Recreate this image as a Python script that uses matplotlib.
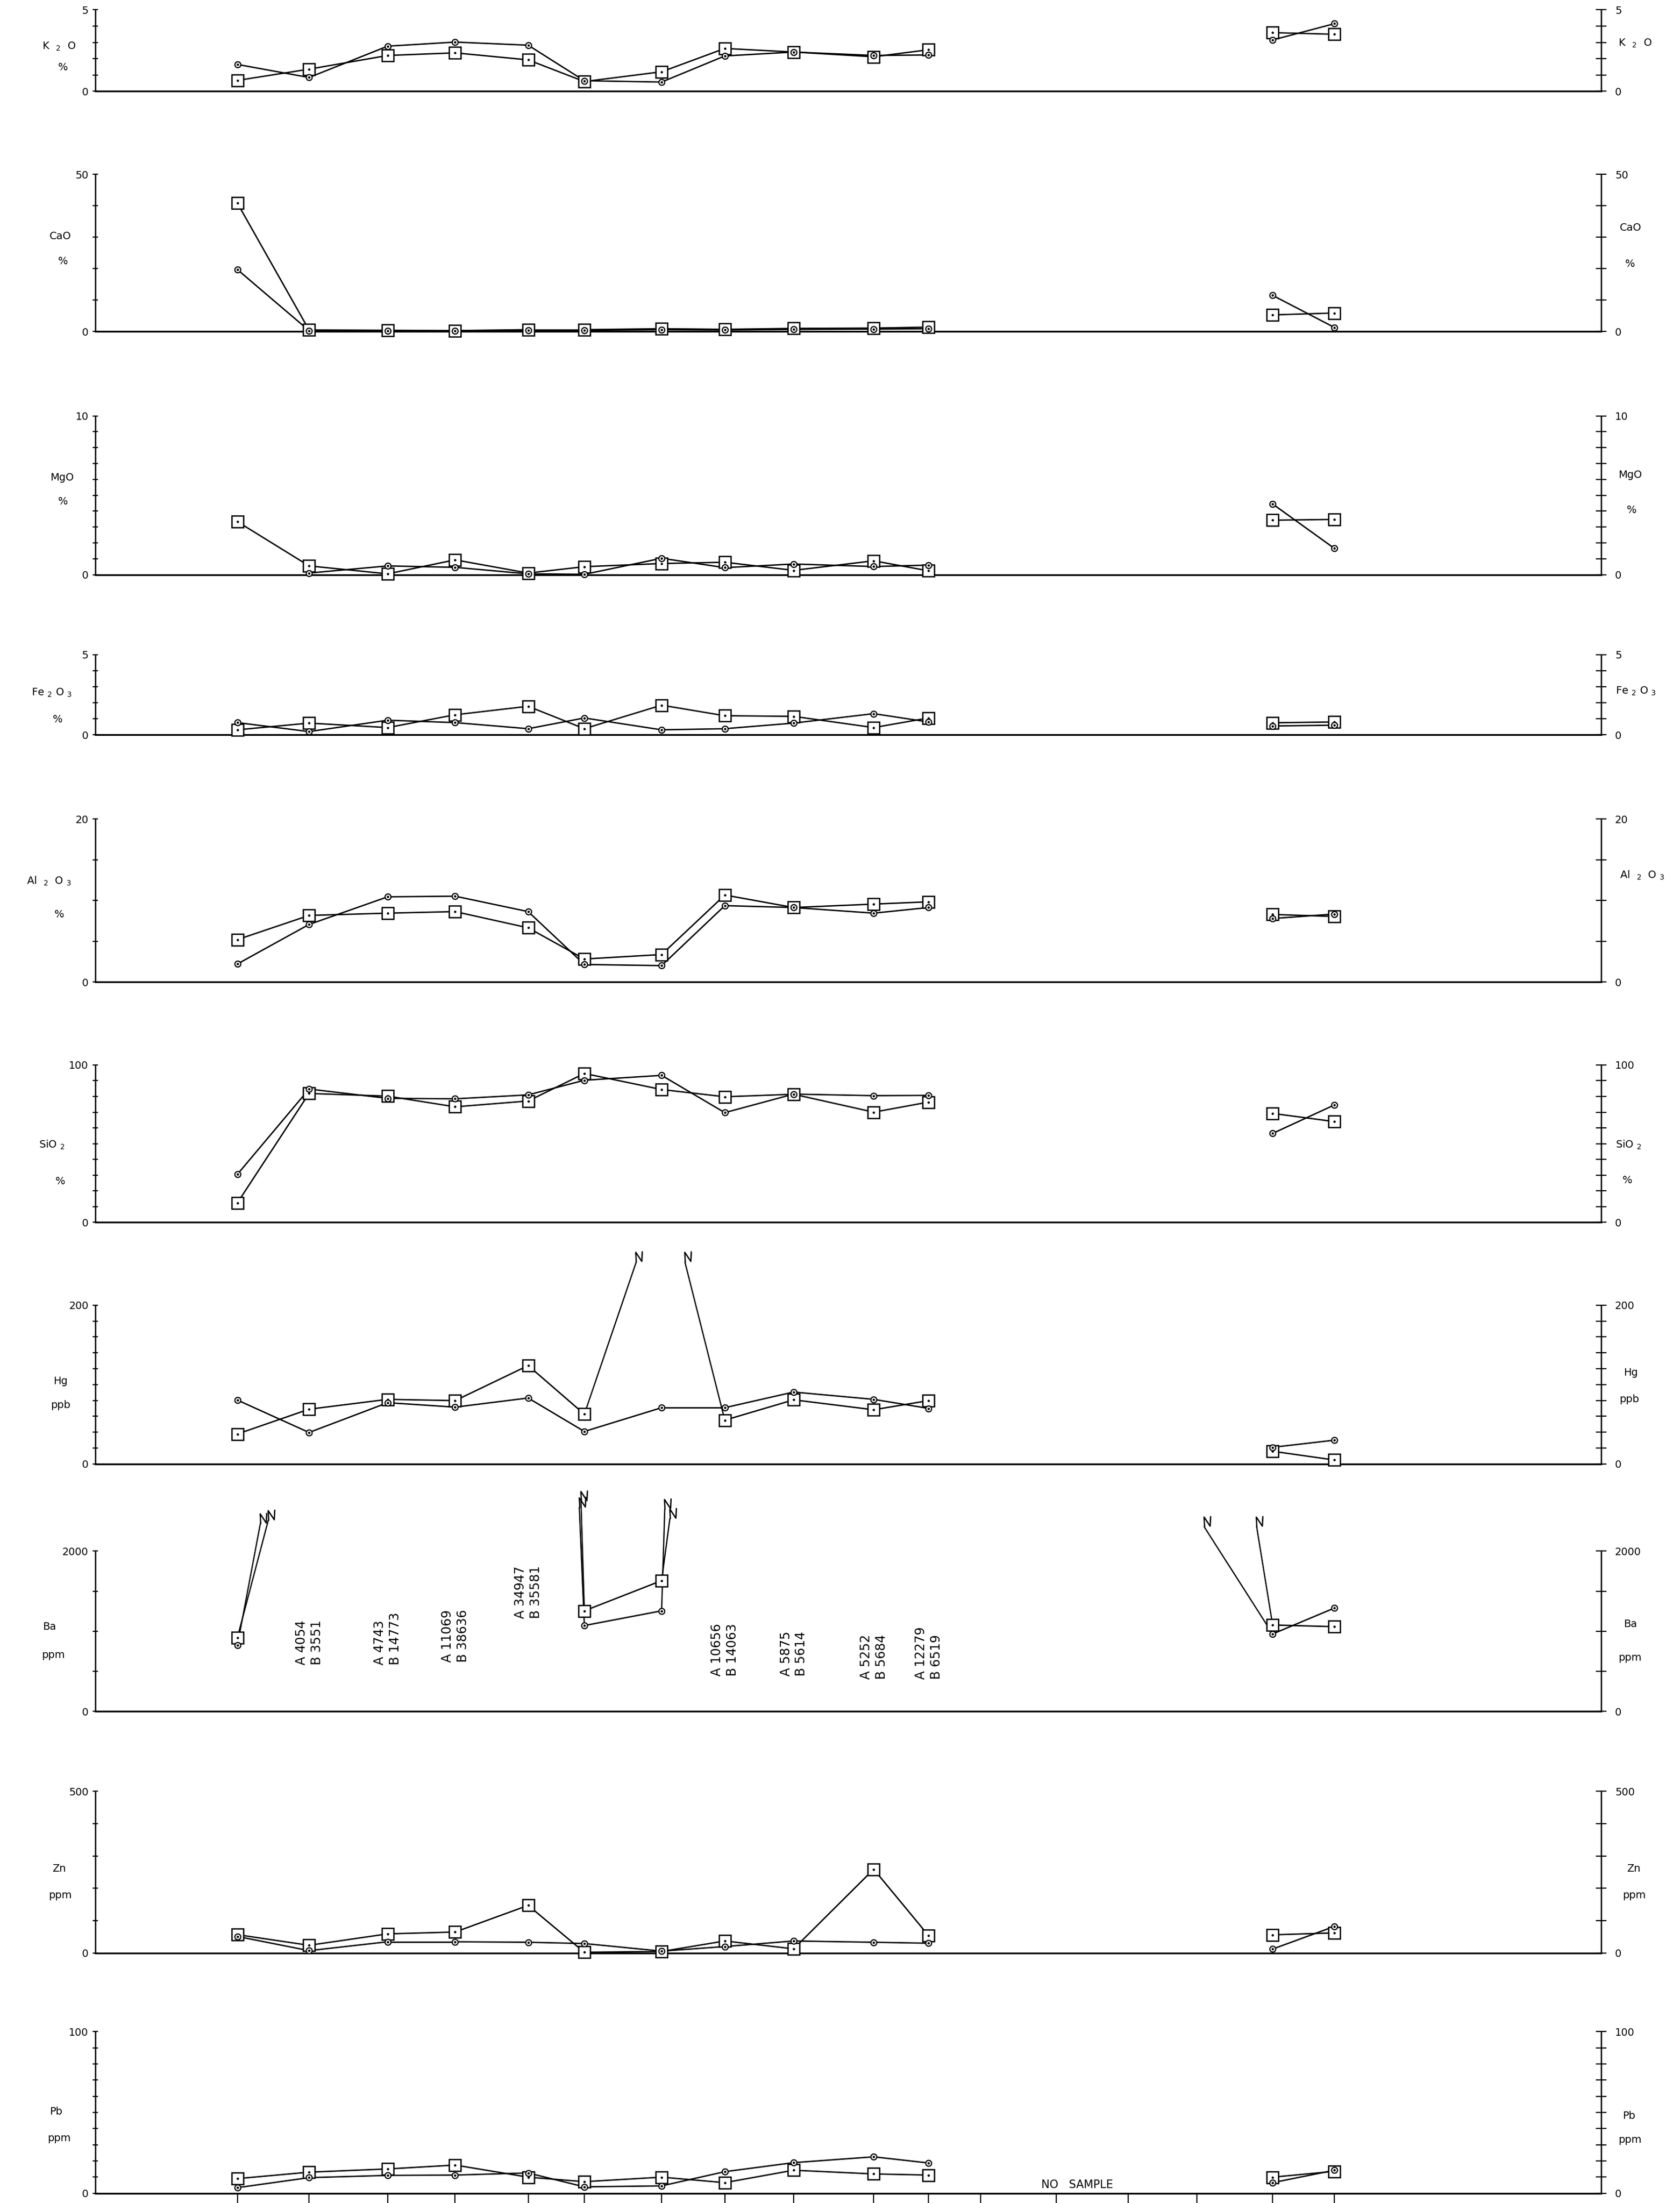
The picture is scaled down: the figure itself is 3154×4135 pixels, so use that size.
import numpy as np
import matplotlib
matplotlib.use("Agg")
import matplotlib.pyplot as plt
from matplotlib.path import Path

plt.rcParams['font.family'] = ['DejaVu Sans']

# ---------------- DATA ----------------
# traverse stations (relative distance along the traverse)
station_dist = [0, 51, 107, 155, 207, 247, 302, 347, 396, 453, 492, 529, 583, 634, 683, 737, 781]
# stations that were sampled (index into station_dist); stations 11-14: no sample
sampled_idx = [0, 1, 2, 3, 4, 5, 6, 7, 8, 9, 10, 15, 16]
segments = [list(range(0, 11)), [11, 12]]   # connected runs (positions in sampled_idx)

# A horizon (circles) and B horizon (squares)
k2o_a = [1.65, 0.85, 2.77, 3.02, 2.83, 0.65, 0.57, 2.17, 2.41, 2.20, 2.23, 3.15, 4.15]
k2o_b = [0.67, 1.36, 2.20, 2.36, 1.93, 0.60, 1.20, 2.63, 2.41, 2.12, 2.55, 3.60, 3.50]

cao_a = [19.7, 0.3, 0.2, 0.2, 0.4, 0.4, 0.6, 0.5, 0.7, 0.8, 0.9, 11.5, 1.3]
cao_b = [40.8, 0.5, 0.4, 0.3, 0.6, 0.6, 0.9, 0.7, 1.0, 1.1, 1.4, 5.3, 5.9]

mgo_a = [10.5, 0.10, 0.55, 0.46, 0.05, 0.02, 1.03, 0.44, 0.67, 0.51, 0.60, 4.45, 1.65]
mgo_b = [3.34, 0.55, 0.05, 0.93, 0.10, 0.50, 0.70, 0.78, 0.27, 0.87, 0.24, 3.43, 3.48]

fe2o3_a = [0.76, 0.20, 0.91, 0.76, 0.38, 1.05, 0.31, 0.38, 0.73, 1.32, 0.80, 0.55, 0.60]
fe2o3_b = [0.31, 0.73, 0.45, 1.25, 1.78, 0.38, 1.85, 1.19, 1.15, 0.45, 1.05, 0.75, 0.80]

al2o3_a = [2.22, 7.07, 10.46, 10.54, 8.65, 2.16, 2.02, 9.38, 9.15, 8.46, 9.15, 7.80, 8.35]
al2o3_b = [5.21, 8.18, 8.46, 8.65, 6.66, 2.83, 3.38, 10.68, 9.15, 9.57, 9.85, 8.30, 8.05]

sio2_a = [30.5, 84.7, 78.8, 78.5, 81.0, 90.3, 93.4, 69.7, 81.5, 80.5, 80.7, 56.5, 74.6]
sio2_b = [12.4, 81.9, 80.2, 73.4, 77.1, 94.6, 84.4, 79.8, 81.4, 70.0, 76.4, 69.2, 64.0]

hg_a = [80.5, 39.7, 77.2, 71.6, 83.1, 41.0, 70.9, 70.9, 90.6, 81.4, 70.0, 21.0, 30.0]
hg_b = [37.8, 69.0, 81.4, 79.8, 124.0, 62.7, np.nan, 55.2, 80.8, 68.3, 79.8, 16.0, 5.0]

ba_a = [825, 4054, 4743, 11069, 34947, 1070, 1254, 10656, 5875, 5252, 12279, 965, 1289]
ba_b = [921, 3551, 14773, 38636, 35581, 1254, 1631, 14063, 5614, 5684, 6519, 1077, 1056]

zn_a = [51, 7, 34.5, 34.5, 33, 29, 5.5, 19.7, 37, 33, 30, 12, 82]
zn_b = [56.5, 23.6, 59, 64.7, 147, 2, 4.4, 37, 12.6, 259, 53.7, 56, 62]

pb_a = [3.4, 9.6, 11.0, 11.2, 12.5, 3.9, 4.5, 13.3, 18.9, 22.5, 18.7, 6.5, 14.2]
pb_b = [9.0, 13.0, 15.0, 17.4, 9.9, 7.1, 9.9, 6.5, 14.2, 11.9, 11.2, 9.9, 13.5]

# off-scale break lines: (series, from position in sampled_idx, toward station index,
#                         fraction of the way, height as multiple of axis max)
hg_breaks = [('b', 5, 6, 0.67, 1.27), ('b', 7, 6, 0.63, 1.27)]
ba_breaks = [('a', 0, 1, 0.32, 1.17), ('b', 0, 1, 0.43, 1.19),
             ('a', 5, 4, 0.09, 1.27), ('b', 5, 4, 0.06, 1.31),
             ('a', 6, 7, 0.05, 1.26), ('b', 6, 7, 0.13, 1.20),
             ('a', 11, 14, 0.90, 1.15), ('b', 11, 14, 0.21, 1.15)]

# ---------------- LAYOUT ----------------
W_REF, H_REF = 1196.0, 1568.0
AX_L, AX_R = 68.0, 1140.0
XMIN, XMAX = -101, 971

# name, ymax, tick step, a, b, breaks, (top_y, zero_y), left labels, right labels
panels = [
    ('K2O', 5, 1, k2o_a, k2o_b, [], (7, 65),
     [(r'K  $_2$  O', 42, 33), ('%', 45, 48)], [(r'K  $_2$  O', 1152, 31)]),
    ('CaO', 50, 10, cao_a, cao_b, [], (124, 236),
     [('CaO', 43, 168), ('%', 45, 186)], [('CaO', 1153, 162), ('%', 1157, 188)]),
    ('MgO', 10, 1, mgo_a, mgo_b, [], (296, 409),
     [('MgO', 44, 340), ('%', 45, 357)], [('MgO', 1152, 338), ('%', 1158, 363)]),
    ('Fe2O3', 5, 1, fe2o3_a, fe2o3_b, [], (466, 523),
     [(r'Fe $_2$ O $_3$', 37, 493), ('%', 41, 512)], [(r'Fe $_2$ O $_3$', 1150, 492)]),
    ('Al2O3', 20, 5, al2o3_a, al2o3_b, [], (583, 699),
     [(r'Al  $_2$  O $_3$', 35, 627), ('%', 42, 651)], [(r'Al  $_2$  O $_3$', 1153, 623)]),
    ('SiO2', 100, 10, sio2_a, sio2_b, [], (758, 870),
     [(r'SiO $_2$', 37, 815), ('%', 43, 841)], [(r'SiO $_2$', 1150, 815), ('%', 1155, 840)]),
    ('Hg', 200, 20, hg_a, hg_b, hg_breaks, (929, 1042),
     [('Hg', 43, 983), ('ppb', 43, 1000)], [('Hg', 1156, 977), ('ppb', 1153, 996)]),
    ('Ba', 2000, 500, ba_a, ba_b, ba_breaks, (1104, 1218),
     [('Ba', 35, 1158), ('ppm', 38, 1178)], [('Ba', 1156, 1156), ('ppm', 1152, 1180)]),
    ('Zn', 500, 100, zn_a, zn_b, [], (1275, 1390),
     [('Zn', 42, 1330), ('ppm', 43, 1349)], [('Zn', 1158, 1330), ('ppm', 1155, 1349)]),
    ('Pb', 100, 10, pb_a, pb_b, [], (1446, 1561),
     [('Pb', 40, 1503), ('ppm', 42, 1522)], [('Pb', 1155, 1506), ('ppm', 1152, 1523)]),
]

# Ba off-scale label base (in ppm units of the Ba axis)
ba_label_base = {1: 580, 2: 580, 3: 610, 4: 1160, 7: 440, 8: 440, 9: 400, 10: 400}

FS = 14
LW = 1.9

brk_marker = Path([(0, 0), (-0.05, 1.0), (0.55, 0.1), (0.6, 1.1)],
                  [Path.MOVETO, Path.LINETO, Path.LINETO, Path.LINETO])

fig = plt.figure(figsize=(31.54, 41.35), dpi=100)


def fx(x):
    return x / W_REF


def fy(y):
    return 1 - y / H_REF


xs_all = np.array([station_dist[i] for i in sampled_idx], dtype=float)

for (name, ymax, step, ser_a, ser_b, breaks, (ytop, yzero), llabs, rlabs) in panels:
    ax = fig.add_axes([fx(AX_L), fy(yzero), fx(AX_R - AX_L), (yzero - ytop) / H_REF])
    ax.set_xlim(XMIN, XMAX)
    ax.set_ylim(0, ymax)
    ax.patch.set_alpha(0)
    for s in ['top', 'right']:
        ax.spines[s].set_visible(False)
    ax.spines['bottom'].set_linewidth(2.4)
    ax.spines['left'].set_linewidth(1.8)

    ticks = np.arange(0, ymax + step / 2, step)
    labels = [''] * len(ticks)
    labels[0] = '0'
    labels[-1] = str(ymax)
    ax.set_yticks(ticks)
    ax.set_yticklabels(labels)
    ax.tick_params(axis='y', direction='inout', length=7, width=1.6, pad=6, labelsize=FS)

    ax2 = ax.twinx()
    ax2.set_ylim(0, ymax)
    for s in ['top', 'left', 'bottom']:
        ax2.spines[s].set_visible(False)
    ax2.spines['right'].set_linewidth(1.8)
    ax2.set_yticks(ticks)
    ax2.set_yticklabels(labels)
    ax2.tick_params(axis='y', direction='inout', length=15, width=1.6, pad=11, labelsize=FS)
    ax2.set_xlim(XMIN, XMAX)

    if name == 'Pb':
        ax.set_xticks(station_dist)
        ax.set_xticklabels([''] * len(station_dist))
        ax.tick_params(axis='x', direction='out', length=16, width=1.6)
    else:
        ax.set_xticks([])

    for key, ser in (('a', ser_a), ('b', ser_b)):
        ys = np.array(ser, dtype=float)
        ok = np.isfinite(ys) & (ys <= ymax)
        # connecting lines
        for seg in segments:
            for p, q in zip(seg[:-1], seg[1:]):
                if ok[p] and ok[q]:
                    ax.plot([xs_all[p], xs_all[q]], [ys[p], ys[q]], color='black',
                            lw=LW, zorder=2, clip_on=False, solid_capstyle='round')
        # markers
        if key == 'b':
            ax.plot(xs_all[ok], ys[ok], linestyle='none', marker='s', ms=16,
                    mfc='white', mec='black', mew=1.8, zorder=3, clip_on=False)
            ax.plot(xs_all[ok], ys[ok], linestyle='none', marker='o', ms=2.2,
                    color='black', zorder=3.5, clip_on=False)
        else:
            ax.plot(xs_all[ok], ys[ok], linestyle='none', marker='o', ms=8,
                    mfc='white', mec='black', mew=1.6, zorder=4, clip_on=False)
            ax.plot(xs_all[ok], ys[ok], linestyle='none', marker='o', ms=2.2,
                    color='black', zorder=4.5, clip_on=False)

    # break (off-scale) lines
    for key, p, toward, frac, hfrac in breaks:
        ys = ser_a if key == 'a' else ser_b
        x0, y0 = xs_all[p], ys[p]
        x1 = x0 + frac * (station_dist[toward] - x0)
        y1 = hfrac * ymax
        ax.plot([x0, x1], [y0, y1], color='black', lw=LW * 0.9, zorder=2, clip_on=False)
        ax.plot([x1], [y1], marker=brk_marker, ms=30, mfc='none', mec='black',
                mew=1.8, linestyle='none', clip_on=False, zorder=2)

    # off-scale Ba values written as labels
    if name == 'Ba':
        for p, base in ba_label_base.items():
            ax.text(xs_all[p], base, f"A {ser_a[p]}\nB {ser_b[p]}", rotation=90,
                    ha='center', va='bottom', fontsize=17, linespacing=1.25,
                    multialignment='left')

    for txt, x, y in llabs:
        fig.text(fx(x), fy(y), txt, ha='center', va='center', fontsize=FS)
    for txt, x, y in rlabs:
        fig.text(fx(x), fy(y), txt, ha='left', va='center', fontsize=FS)

fig.text(fx(767), fy(1555), 'NO   SAMPLE', ha='center', va='center', fontsize=FS + 1)

fig.savefig('out.png', dpi=100, facecolor='white')
